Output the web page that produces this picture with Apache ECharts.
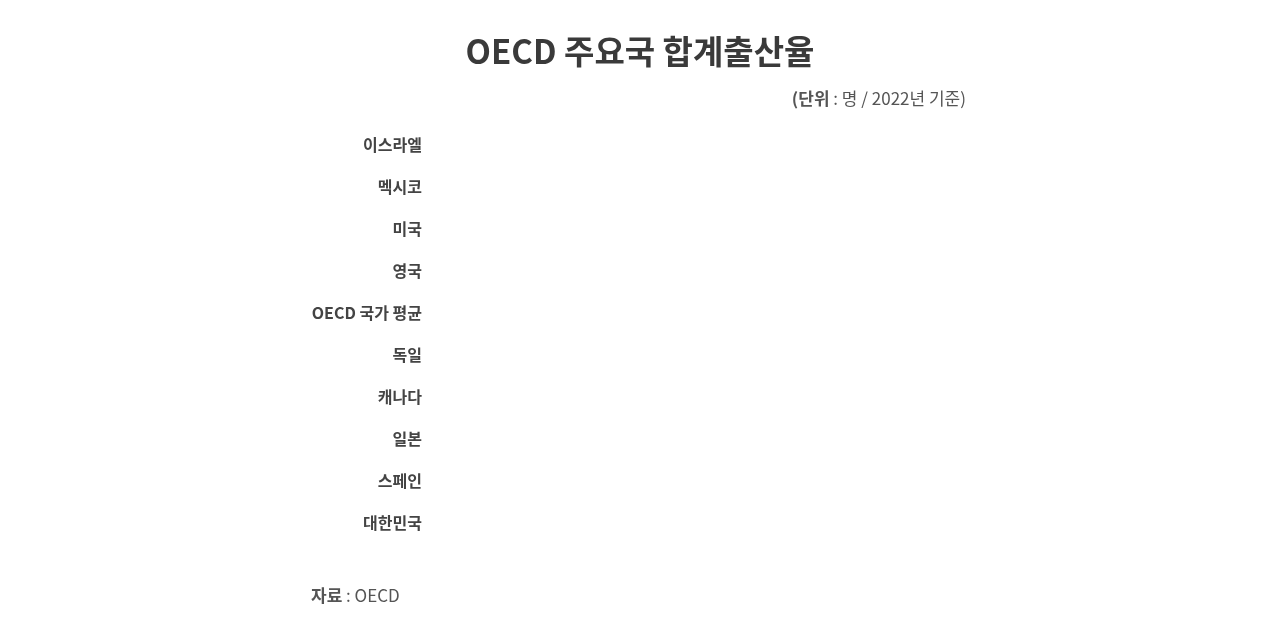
<!DOCTYPE html>
<html>
<head>
<meta charset="utf-8">
<script src="https://cdn.jsdelivr.net/npm/echarts@6/dist/echarts.min.js"></script>
<style>
html,body{margin:0;padding:0;background:#fff;}
#chart{width:1280px;height:632px;}
</style>
</head>
<body>
<div id="chart"></div>
<script>
// Categories (top to bottom)
var categories = ['이스라엘','멕시코','미국','영국','OECD 국가 평균','독일','캐나다','일본','스페인','대한민국'];
// Total fertility rate (persons, 2022) — bars are not visible in the reference
var fertilityRate = [2.89, 1.82, 1.67, 1.57, 1.51, 1.46, 1.33, 1.26, 1.16, 0.78];

var titleText = 'OECD 주요국 합계출산율';
var unitText = '{b|(단위} : 명 / 2022년 기준)';
var sourceText = '{b|자료} : OECD';

var FONT = '"Noto Sans CJK KR", "Noto Sans", sans-serif';

var chart = echarts.init(document.getElementById('chart'));
chart.setOption({
  animation: false,
  backgroundColor: '#ffffff',
  title: [
    {
      text: titleText,
      left: 'center',
      top: 30,
      textStyle: {fontFamily: FONT, fontSize: 33, fontWeight: 'bold', color: '#3a3a3a'}
    },
    {
      text: unitText,
      right: 309,
      top: 85,
      textStyle: {
        fontFamily: FONT, fontSize: 17, fontWeight: 'normal', color: '#555',
        rich: {b: {fontFamily: FONT, fontSize: 17, fontWeight: 'bold', color: '#555'}}
      }
    },
    {
      text: sourceText,
      left: 306,
      top: 582,
      textStyle: {
        fontFamily: FONT, fontSize: 17, fontWeight: 'normal', color: '#555',
        rich: {b: {fontFamily: FONT, fontSize: 17, fontWeight: 'bold', color: '#555'}}
      }
    }
  ],
  grid: {left: 430, right: 310, top: 124, bottom: 88, containLabel: false},
  xAxis: {
    type: 'value',
    min: 0,
    max: 3,
    show: false
  },
  yAxis: {
    type: 'category',
    data: categories,
    inverse: true,
    axisLine: {show: false},
    axisTick: {show: false},
    splitLine: {show: false},
    axisLabel: {
      margin: 8,
      fontFamily: FONT,
      fontSize: 16,
      fontWeight: 'bold',
      color: '#444'
    }
  },
  series: [{
    type: 'bar',
    data: fertilityRate,
    barWidth: 22,
    itemStyle: {color: 'rgba(255,255,255,0)'},
    label: {show: false}
  }]
});
</script>
</body>
</html>
